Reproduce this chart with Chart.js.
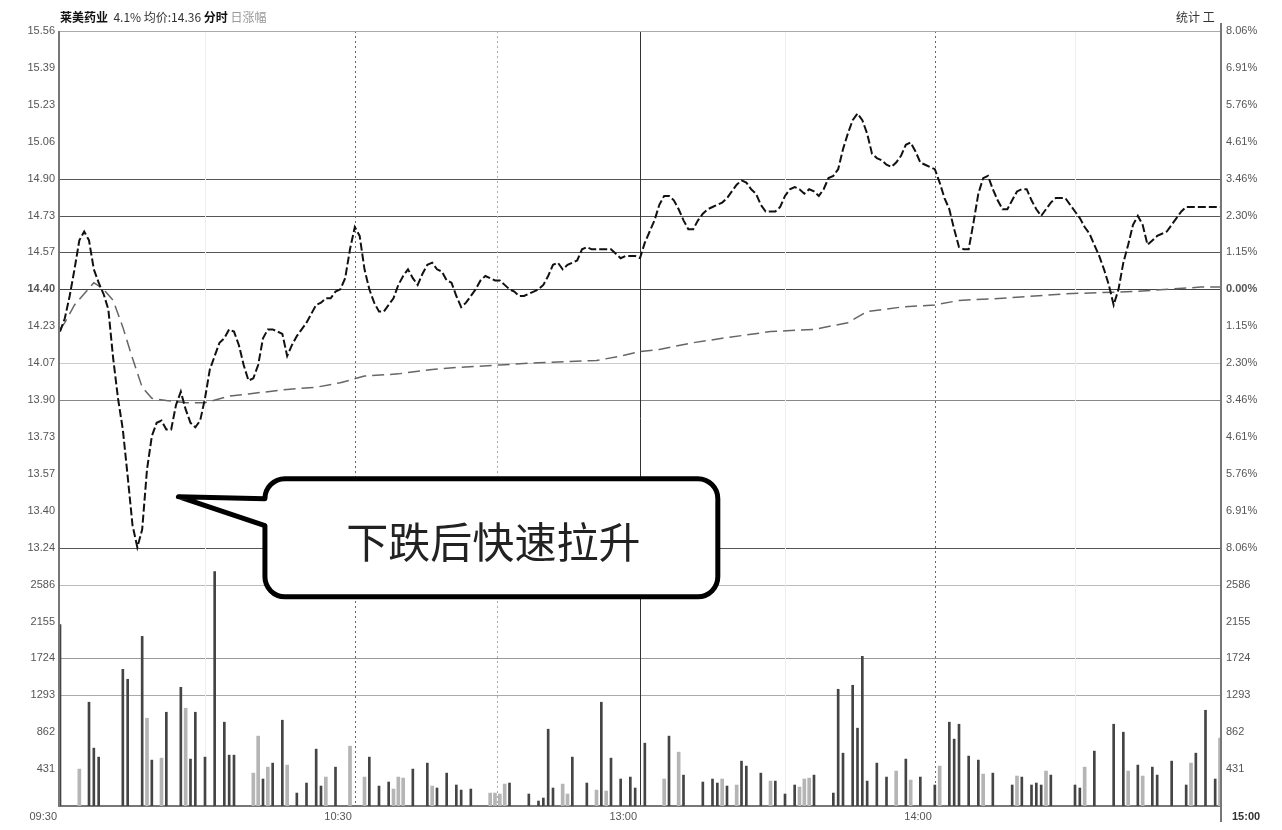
<!DOCTYPE html>
<html>
<head>
<meta charset="utf-8">
<script src="https://cdn.jsdelivr.net/npm/chart.js@4.4.0/dist/chart.umd.min.js"></script>
<style>
html,body{margin:0;padding:0;background:#fff;}
#wrap{position:relative;width:1282px;height:830px;}
#hdr{position:absolute;left:60px;top:8px;font:12px "Noto Sans CJK SC",sans-serif;color:#333;white-space:nowrap;}
#hdr b{color:#111;}
#hdr .g{color:#999;}
#hdrR{position:absolute;left:1176px;top:8px;font:12px "Noto Sans CJK SC",sans-serif;color:#333;}
</style>
</head>
<body>
<div id="wrap">
  <canvas id="c" width="1282" height="830"></canvas>
  <div id="hdr"><b>莱美药业</b>&nbsp; 4.1% 均价:14.36 <b>分时</b> <span class="g">日涨幅</span></div>
  <div id="hdrR">统计 工</div>
</div>
<script>
// intraday chart: price + average line on top, volume below

const prevClose = 14.40;
const priceStep = 0.16589; // one grid row = 1.152%
const volStep = 431;

// left tick labels, top to bottom (price rows)
const priceLabels = ['15.56','15.39','15.23','15.06','14.90','14.73','14.57','14.40','14.23','14.07','13.90','13.73','13.57','13.40','13.24'];
const pctLabels = ['8.06%','6.91%','5.76%','4.61%','3.46%','2.30%','1.15%','0.00%','1.15%','2.30%','3.46%','4.61%','5.76%','6.91%','8.06%'];
// volume rows, top to bottom
const volLabels = ['2586','2155','1724','1293','862','431'];
const timeLabels = ['09:30','10:30','13:00','14:00','15:00'];

// one price per minute, 0 = 09:30 ... 120 = 11:30/13:00 ... 240 = 15:00
const priceVals = [
  14.21,14.27,14.37,14.49,14.62,14.66,14.62,14.49,14.43,14.38,
  14.31,14.09,13.91,13.77,13.56,13.34,13.24,13.32,13.59,13.74,
  13.80,13.81,13.77,13.77,13.88,13.94,13.86,13.80,13.78,13.81,
  13.91,14.04,14.10,14.16,14.18,14.22,14.21,14.15,14.06,13.99,
  14.00,14.06,14.18,14.22,14.22,14.21,14.20,14.10,14.15,14.19,
  14.22,14.25,14.29,14.33,14.34,14.36,14.36,14.39,14.40,14.45,
  14.58,14.68,14.64,14.49,14.40,14.34,14.30,14.30,14.33,14.36,
  14.42,14.46,14.49,14.45,14.42,14.47,14.51,14.52,14.49,14.48,
  14.44,14.43,14.37,14.32,14.34,14.37,14.40,14.44,14.46,14.45,
  14.44,14.44,14.42,14.40,14.39,14.37,14.37,14.38,14.39,14.40,
  14.42,14.46,14.51,14.52,14.49,14.51,14.52,14.53,14.58,14.59,
  14.58,14.58,14.58,14.58,14.58,14.56,14.54,14.55,14.55,14.55,
  14.54,14.61,14.66,14.71,14.78,14.82,14.82,14.80,14.76,14.71,
  14.67,14.67,14.71,14.74,14.76,14.77,14.78,14.79,14.81,14.84,
  14.87,14.89,14.88,14.85,14.83,14.78,14.75,14.75,14.75,14.77,
  14.82,14.85,14.86,14.85,14.83,14.85,14.84,14.82,14.85,14.90,
  14.91,14.94,15.03,15.10,15.16,15.19,15.16,15.10,15.01,14.99,
  14.98,14.96,14.95,14.97,15.00,15.05,15.06,15.02,14.97,14.96,
  14.95,14.94,14.88,14.81,14.76,14.67,14.59,14.58,14.58,14.70,
  14.83,14.90,14.91,14.85,14.80,14.76,14.76,14.80,14.84,14.85,
  14.85,14.80,14.76,14.73,14.76,14.79,14.81,14.81,14.81,14.78,
  14.75,14.72,14.68,14.65,14.60,14.55,14.49,14.42,14.33,14.40,
  14.52,14.60,14.69,14.73,14.69,14.60,14.62,14.64,14.65,14.66,
  14.69,14.72,14.75,14.77,14.77,14.77,14.77,14.77,14.77,14.77,14.77
];

// average price line
const avgMin = [0,1,3,7,9,11,13,15,17,19,22,26,30,35,39,43,47,53,58,63,70,77,83,91,99,111,116,120,124,131,137,147,156,163,167,174,181,186,195,208,222,236,240];
const avgVal = [14.22,14.25,14.33,14.43,14.40,14.35,14.23,14.09,13.96,13.91,13.90,13.89,13.89,13.92,13.93,13.94,13.95,13.96,13.98,14.01,14.02,14.04,14.05,14.06,14.07,14.08,14.10,14.12,14.13,14.16,14.18,14.21,14.22,14.25,14.30,14.32,14.33,14.35,14.36,14.38,14.39,14.41,14.41];

// volume bars (minute, volume)
const volDarkMin = [0,6,7,8,13,14,17,19,22,25,27,28,30,32,34,35,36,42,44,46,49,51,53,54,57,64,66,68,73,76,78,80,82,83,85,93,97,99,100,101,102,106,109,112,114,116,118,119,121,126,129,133,135,136,138,141,142,145,148,150,152,156,160,161,162,164,165,166,167,169,171,175,178,181,184,185,186,188,190,193,197,199,201,202,203,205,210,211,214,218,220,223,226,227,230,233,235,237,239];
const volDarkVal = [2120,1212,676,571,1596,1480,1981,536,1095,1386,548,1095,571,2738,979,594,594,315,501,1002,151,268,664,233,454,571,233,280,431,501,210,384,245,186,198,268,140,58,93,897,210,571,268,1212,559,315,338,210,734,816,361,280,315,268,233,524,466,384,291,140,245,361,151,1363,617,1410,909,1748,291,501,338,548,338,245,979,781,955,583,536,384,245,338,245,268,245,361,245,210,641,955,862,478,454,361,524,245,617,1118,315];
const volGrayMin = [4,18,21,26,40,41,43,47,55,60,63,69,70,71,77,89,90,91,92,104,105,111,113,125,128,137,140,147,153,154,155,173,176,182,191,198,204,212,221,224,234,240];
const volGrayVal = [431,1025,559,1142,384,816,454,478,338,699,338,198,338,326,233,151,151,140,256,256,140,186,175,315,629,315,245,291,221,315,326,408,303,466,373,350,408,454,408,350,501,792];

const rowKs = [];
for (let k = -14; k <= 7; k++) rowKs.push(k);

function leftLabel(i){
  if (i >= 7) return priceLabels[21 - i];
  if (i >= 1) return volLabels[6 - i];
  return '';
}
function rightLabel(i){
  if (i >= 7) return pctLabels[21 - i];
  if (i >= 1) return volLabels[6 - i];
  return '';
}

const tickFont = (ctx) => ({family:'"Liberation Sans", Arial, sans-serif', size:11, weight: ctx.index === 14 ? 'bold' : 'normal'});

const gridPlugin = {
  id:'grid',
  beforeDatasetsDraw(chart){
    const {ctx, chartArea:a, scales} = chart;
    const y = scales.y, x = scales.x;
    ctx.save();
    const hRows = [
      {k:3,c:'#555'},{k:2,c:'#555'},{k:1,c:'#555'},{k:0,c:'#444'},
      {k:-2,c:'#ccc'},{k:-3,c:'#888'},{k:-7,c:'#555'},
      {k:-8,c:'#bbb'},{k:-10,c:'#999'},{k:-11,c:'#aaa'}
    ];
    ctx.lineWidth = 1.2;
    hRows.forEach(r=>{
      const py = Math.round(y.getPixelForValue(prevClose + r.k*priceStep)) + 0.5;
      ctx.strokeStyle = r.c;
      ctx.beginPath(); ctx.moveTo(a.left, py); ctx.lineTo(a.right, py); ctx.stroke();
    });
    const vLines = [
      {m:30,c:'#eee'},{m:150,c:'#eee'},{m:210,c:'#eee'},
      {m:61,c:'#666',d:[2,3]},{m:90.5,c:'#aaa',d:[2,3]},
      {m:120,c:'#333'},{m:181,c:'#666',d:[2,3]}
    ];
    vLines.forEach(v=>{
      const px = Math.round(x.getPixelForValue(v.m)) + 0.5;
      ctx.strokeStyle = v.c;
      ctx.lineWidth = 1;
      ctx.setLineDash(v.d || []);
      ctx.beginPath(); ctx.moveTo(px, a.top); ctx.lineTo(px, a.bottom); ctx.stroke();
    });
    ctx.setLineDash([]);
    // frame
    ctx.strokeStyle = '#aaa'; ctx.lineWidth = 1;
    ctx.beginPath(); ctx.moveTo(a.left, a.top + 0.5); ctx.lineTo(a.right, a.top + 0.5); ctx.stroke();
    ctx.strokeStyle = '#777'; ctx.lineWidth = 2;
    ctx.beginPath(); ctx.moveTo(a.left - 1, a.top); ctx.lineTo(a.left - 1, a.bottom); ctx.stroke();
    ctx.beginPath(); ctx.moveTo(a.right + 1, a.top - 8); ctx.lineTo(a.right + 1, a.bottom + 16); ctx.stroke();
    ctx.beginPath(); ctx.moveTo(a.left - 2, a.bottom); ctx.lineTo(a.right + 2, a.bottom); ctx.stroke();
    ctx.restore();
  },
  afterDraw(chart){
    const {ctx, chartArea:a, scales} = chart;
    const x = scales.x, y = scales.y;
    ctx.save();
    // time labels, right aligned on their grid lines
    ctx.font = '11px "Liberation Sans", Arial, sans-serif';
    ctx.fillStyle = '#555';
    ctx.textBaseline = 'middle';
    const tPos = [0, 61, 120, 181];
    tPos.forEach((m,i)=>{
      ctx.textAlign = 'right';
      ctx.fillText(timeLabels[i], x.getPixelForValue(m) - 3, a.bottom + 11);
    });
    ctx.textAlign = 'left';
    ctx.font = 'bold 11px "Liberation Sans", Arial, sans-serif';
    ctx.fillStyle = '#333';
    ctx.fillText(timeLabels[4], x.getPixelForValue(240) + 12, a.bottom + 11);

    // callout bubble
    const tipX = x.getPixelForValue(24.5), tipY = y.getPixelForValue(13.468);
    const L = x.getPixelForValue(42.4), R = x.getPixelForValue(136.1);
    const T = y.getPixelForValue(13.549), B = y.getPixelForValue(13.018);
    const r = 20;
    ctx.beginPath();
    ctx.moveTo(tipX, tipY);
    ctx.lineTo(L, T + r);
    ctx.arcTo(L, T, L + r, T, r);
    ctx.lineTo(R - r, T);
    ctx.arcTo(R, T, R, T + r, r);
    ctx.lineTo(R, B - r);
    ctx.arcTo(R, B, R - r, B, r);
    ctx.lineTo(L + r, B);
    ctx.arcTo(L, B, L, B - r, r);
    ctx.lineTo(L, T + 47);
    ctx.closePath();
    ctx.fillStyle = '#fff';
    ctx.fill();
    ctx.lineWidth = 5;
    ctx.lineJoin = 'round';
    ctx.strokeStyle = '#000';
    ctx.stroke();
    ctx.fillStyle = '#222';
    ctx.font = '42px "Noto Sans CJK SC", sans-serif';
    ctx.textAlign = 'center';
    ctx.textBaseline = 'middle';
    ctx.fillText('下跌后快速拉升', (L + R) / 2 + 2, (T + B) / 2 + 4);
    ctx.restore();
  }
};

new Chart(document.getElementById('c'), {
  type:'line',
  data:{
    datasets:[
      {
        label:'价格',
        data: priceVals.map((v,i)=>({x:i, y:v})),
        borderColor:'#111', borderWidth:2, borderDash:[8,3],
        pointRadius:0, tension:0, yAxisID:'y', order:1
      },
      {
        label:'均价',
        data: avgMin.map((m,i)=>({x:m, y:avgVal[i]})),
        borderColor:'#666', borderWidth:1.5, borderDash:[12,6],
        pointRadius:0, tension:0, yAxisID:'y', order:2
      },
      {
        type:'bar', label:'成交量',
        data: volDarkMin.map((m,i)=>({x:m, y:volDarkVal[i]})),
        backgroundColor:'#444', barThickness:2, grouped:false, yAxisID:'yVol', order:3
      },
      {
        type:'bar', label:'成交量2',
        data: volGrayMin.map((m,i)=>({x:m, y:volGrayVal[i]})),
        backgroundColor:'#b5b5b5', barThickness:3, grouped:false, yAxisID:'yVol', order:4
      }
    ]
  },
  options:{
    responsive:false,
    animation:false,
    layout:{padding:{top:31, left:0, right:0, bottom:0}},
    plugins:{legend:{display:false}, tooltip:{enabled:false}},
    scales:{
      x:{
        type:'linear', min:0, max:240, offset:false,
        grid:{display:false}, border:{display:false},
        ticks:{display:false},
        afterFit(s){ s.height = 24; }
      },
      y:{
        position:'left',
        min: prevClose - 14*priceStep, max: prevClose + 7*priceStep,
        afterBuildTicks(s){ s.ticks = rowKs.map(k=>({value: prevClose + k*priceStep})); },
        grid:{display:false, drawTicks:false}, border:{display:false},
        ticks:{autoSkip:false, padding:5, color:'#555', font:tickFont,
          callback:(v,i)=>leftLabel(i)},
        afterFit(s){ s.width = 60; }
      },
      y2:{
        position:'right',
        min: prevClose - 14*priceStep, max: prevClose + 7*priceStep,
        afterBuildTicks(s){ s.ticks = rowKs.map(k=>({value: prevClose + k*priceStep})); },
        grid:{display:false, drawTicks:false}, border:{display:false},
        ticks:{autoSkip:false, padding:6, color:'#555', font:tickFont,
          callback:(v,i)=>rightLabel(i)},
        afterFit(s){ s.width = 62; }
      },
      yVol:{
        display:false, min:0, max:21*volStep
      }
    }
  },
  plugins:[gridPlugin]
});
</script>
</body>
</html>
